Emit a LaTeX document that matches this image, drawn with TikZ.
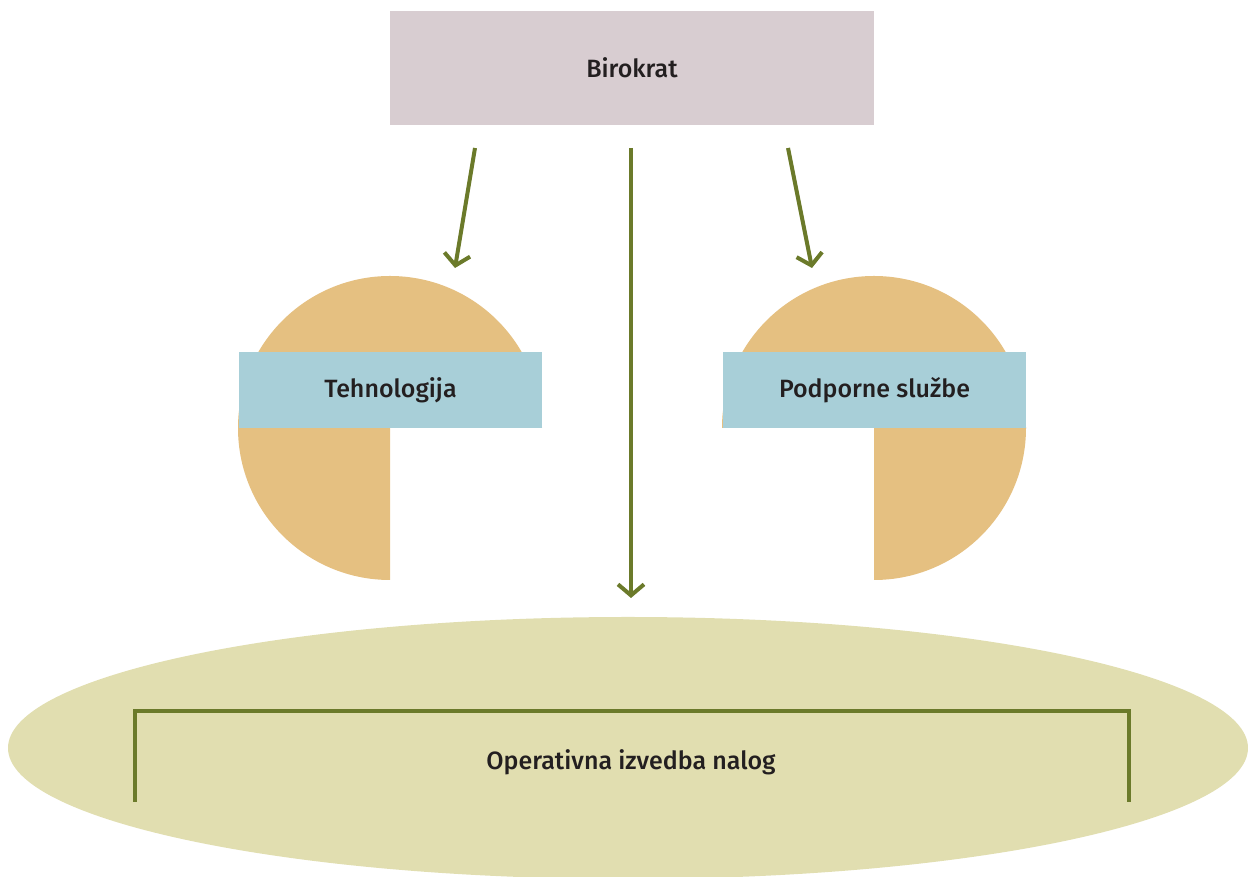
\documentclass[tikz,border=0pt]{standalone}
\usepackage{fontspec}
\setmainfont{Fira Sans}[UprightFont={* Medium}]
\usetikzlibrary{arrows.meta,shapes.geometric}
\definecolor{boxmauve}{HTML}{D8CDD1}
\definecolor{wedge}{HTML}{E5C081}
\definecolor{labelblue}{HTML}{A8CFD8}
\definecolor{basefill}{HTML}{E1DEB0}
\definecolor{olive}{HTML}{6B7A2A}
\definecolor{ink}{HTML}{231F20}
\tikzset{
  lbl/.style={font=\fontsize{25}{30}\selectfont, text=ink},
  flatbox/.style={lbl, inner sep=0pt, anchor=center},
  link/.style={draw=olive, line width=4pt,
    -{Straight Barb[length=11pt, width=26pt, line width=4pt]}},
}
\begin{document}
\begin{tikzpicture}[x=1pt, y=1pt]
  \useasboundingbox (0,0) rectangle (1248,877);

  % top box
  \node[flatbox, fill=boxmauve, minimum width=484pt, minimum height=114pt] (birokrat) at (632,809) {Birokrat};

  % three-quarter discs
  \fill[wedge] (390,449) -- (542,449) arc[start angle=0, end angle=270, radius=152] -- cycle;
  \fill[wedge] (874,449) -- (874,297) arc[start angle=270, end angle=540, radius=152] -- cycle;

  % labels on the discs
  \node[flatbox, fill=labelblue, minimum width=303pt, minimum height=76pt] (tech) at (390.5,487) {Tehnologija};
  \node[flatbox, fill=labelblue, minimum width=303pt, minimum height=76pt] (podpora) at (874.5,487) {Podporne službe};

  % base ellipse
  \node[ellipse, fill=basefill, minimum width=1240pt, minimum height=262pt, inner sep=0pt] (base) at (628,129) {};
  \draw[olive, line width=4pt] (135,75) -- (135,166) -- (1129,166) -- (1129,75);
  \node[lbl] (oper) at (631,115) {Operativna izvedba nalog};

  % arrows
  \coordinate (s1) at (475,729);
  \coordinate (e1) at (455,609);
  \coordinate (s2) at (631,729);
  \coordinate (e2) at (631,279);
  \coordinate (s3) at (788,729);
  \coordinate (e3) at (812,609);
  \draw[link] (s1) -- (e1);
  \draw[link] (s2) -- (e2);
  \draw[link] (s3) -- (e3);
\end{tikzpicture}
\end{document}
